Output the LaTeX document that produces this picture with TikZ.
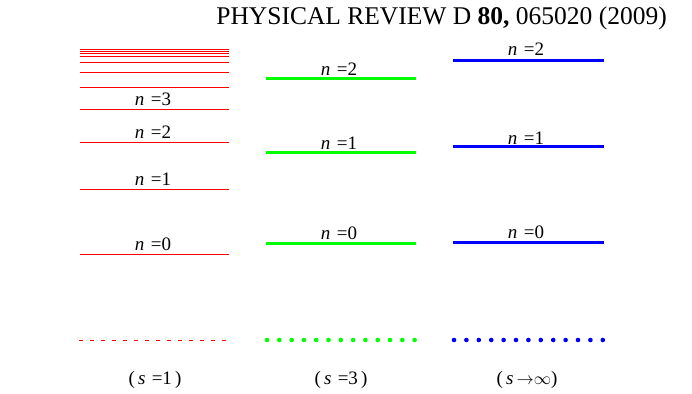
\documentclass[tikz,border=0pt]{standalone}
\usepackage{fontspec}
\setmainfont{Liberation Serif}
\begin{document}
\begin{tikzpicture}[x=1pt,y=-1pt,
  redlvl/.style={fill=red, draw=none},
  grnlvl/.style={green, line width=3pt},
  blulvl/.style={blue, line width=3pt},
  lbl/.style={font=\fontsize{19}{19}\selectfont, inner sep=0pt, anchor=base},
  slbl/.style={font=\fontsize{19}{19}\selectfont, inner sep=0pt, anchor=base}]
\useasboundingbox (0,0) rectangle (692,393);
% header
\node[anchor=base east, inner sep=0pt, font=\fontsize{25.5}{25.5}\selectfont] (hdr) at (667,25) {PHYSICAL REVIEW D \textbf{80,} 065020 (2009)};
% red levels
\foreach \yy in {49,51,53,56,62,72,87,109,142,189,254}
  \fill[redlvl] (80,\yy) rectangle (229,\yy+1.2);
\node[lbl] (r3) at (153,106) {\textit{n}\,\,=3};
\node[lbl] (r2) at (153,138) {\textit{n}\,\,=2};
\node[lbl] (r1) at (153,185) {\textit{n}\,\,=1};
\node[lbl] (r0) at (153,250) {\textit{n}\,\,=0};
% green levels
\foreach \yy in {79,152.7,243}
  \draw[grnlvl] (266,\yy) -- (416,\yy);
\node[lbl] (g2) at (339,76) {\textit{n}\,\,=2};
\node[lbl] (g1) at (339,149) {\textit{n}\,\,=1};
\node[lbl] (g0) at (339,239) {\textit{n}\,\,=0};
% blue levels
\foreach \yy in {60.7,146.7,242}
  \draw[blulvl] (453,\yy) -- (604,\yy);
\node[lbl] (b2) at (526,56) {\textit{n}\,\,=2};
\node[lbl] (b1) at (526,144) {\textit{n}\,\,=1};
\node[lbl] (b0) at (526,238) {\textit{n}\,\,=0};
% continuum
\foreach \i in {0,...,13}
  \fill[redlvl] ({79+\i*11},339.5) rectangle ({83+\i*11},340.7);
\foreach \i in {0,...,12}
  \fill[green] ({267+\i*12.3},340) circle (2.3pt);
\foreach \i in {0,...,12}
  \fill[blue] ({454+\i*12.4},340) circle (2.3pt);
\node[slbl] (s1) at (155,384) {(\,\textit{s}\,\,=1\,)};
\node[slbl] (s3) at (341,384) {(\,\textit{s}\,\,=3\,)};
\node[slbl] (sinf) at (527,384) {(\,\textit{s}\,$\rightarrow$$\infty$)};
\end{tikzpicture}
\end{document}
